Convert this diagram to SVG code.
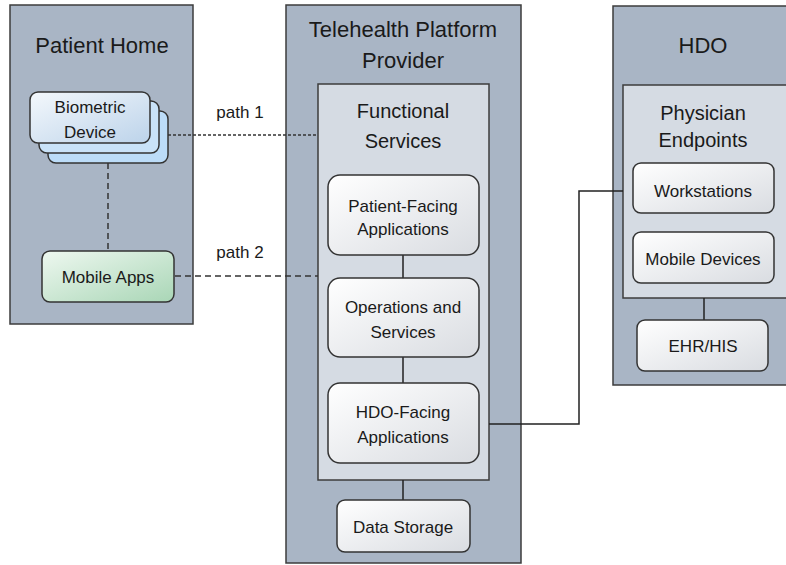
<svg xmlns="http://www.w3.org/2000/svg" width="786" height="565" viewBox="0 0 786 565">
<defs>
<linearGradient id="gNode" x1="0" y1="0" x2="1" y2="1">
<stop offset="0" stop-color="#ffffff"/><stop offset="1" stop-color="#d9dce1"/>
</linearGradient>
<linearGradient id="gBio" x1="0" y1="0" x2="1" y2="1">
<stop offset="0" stop-color="#f4f8fc"/><stop offset="1" stop-color="#bcd3ea"/>
</linearGradient>
<linearGradient id="gMob" x1="0" y1="0" x2="1" y2="1">
<stop offset="0" stop-color="#eef8f0"/><stop offset="1" stop-color="#a9d6b6"/>
</linearGradient>
<style>
.outer{fill:#a9b5c5;stroke:#3c3c3c;stroke-width:1.5}
.inner{fill:#d5dbe3;stroke:#3c3c3c;stroke-width:1.5}
.node{fill:url(#gNode);stroke:#333;stroke-width:1.5}
.t{font-family:"Liberation Sans",Arial,sans-serif;fill:#1a1a1a;text-anchor:middle}
.big{font-size:22px}
.mid{font-size:20px}
.sm{font-size:17px}
.solid{stroke:#222;stroke-width:1.5;fill:none}
.dash{stroke:#333;stroke-width:1.5;fill:none;stroke-dasharray:6 4}
.dash1{stroke:#333;stroke-width:1.5;fill:none;stroke-dasharray:3 2}
</style>
</defs>
<rect width="786" height="565" fill="#ffffff"/>

<g id="patient-home">
<rect class="outer" x="10" y="5" width="183" height="319"/>
<text class="t big" x="102" y="53">Patient Home</text>
</g>

<g id="telehealth-platform">
<rect class="outer" x="286" y="5" width="235" height="558"/>
<text class="t big" x="403" y="37">Telehealth Platform</text>
<text class="t big" x="403" y="68">Provider</text>
</g>

<g id="hdo">
<rect class="outer" x="613" y="6" width="180" height="379"/>
<text class="t big" x="703" y="53">HDO</text>
</g>

<g id="functional-services">
<rect class="inner" x="318" y="84" width="171" height="396"/>
<text class="t mid" x="403" y="118">Functional</text>
<text class="t mid" x="403" y="148">Services</text>
</g>

<g id="physician-endpoints">
<rect class="inner" x="623" y="85" width="170" height="213"/>
<text class="t mid" x="703" y="120">Physician</text>
<text class="t mid" x="703" y="147">Endpoints</text>
</g>

<g id="connectors">
<path class="dash1" d="M168 135 H318"/>
<path class="dash" d="M175 276 H318"/>
<path class="dash" d="M108 163 V250"/>
<path class="solid" d="M403 255 V278 M403 357 V383 M403 480 V500 M704 298 V320"/>
<path class="solid" d="M489 424 H579 V191 H623"/>
</g>

<g id="biometric-device">
<rect x="48" y="111" width="120" height="52" rx="8" fill="#bcdcf8" stroke="#333" stroke-width="1.5"/>
<rect x="39" y="101" width="120" height="52" rx="8" fill="#c9e2f8" stroke="#333" stroke-width="1.5"/>
<rect x="30" y="92" width="120" height="51" rx="8" fill="url(#gBio)" stroke="#333" stroke-width="1.5"/>
<text class="t sm" x="90" y="113">Biometric</text>
<text class="t sm" x="90" y="138">Device</text>
</g>

<g id="mobile-apps">
<rect x="42" y="251" width="132" height="51" rx="8" fill="url(#gMob)" stroke="#333" stroke-width="1.5"/>
<text class="t sm" x="108" y="283">Mobile Apps</text>
</g>

<g id="path-labels">
<text class="t sm" x="240" y="118">path 1</text>
<text class="t sm" x="240" y="258">path 2</text>
</g>

<g id="patient-facing">
<rect class="node" x="328" y="175" width="151" height="80" rx="12"/>
<text class="t sm" x="403" y="212">Patient-Facing</text>
<text class="t sm" x="403" y="235">Applications</text>
</g>

<g id="operations">
<rect class="node" x="328" y="278" width="151" height="79" rx="12"/>
<text class="t sm" x="403" y="313">Operations and</text>
<text class="t sm" x="403" y="338">Services</text>
</g>

<g id="hdo-facing">
<rect class="node" x="328" y="383" width="151" height="80" rx="12"/>
<text class="t sm" x="403" y="418">HDO-Facing</text>
<text class="t sm" x="403" y="443">Applications</text>
</g>

<g id="data-storage">
<rect class="node" x="337" y="500" width="133" height="52" rx="8"/>
<text class="t sm" x="403" y="533">Data Storage</text>
</g>

<g id="workstations">
<rect class="node" x="633" y="163" width="141" height="50" rx="8"/>
<text class="t sm" x="703" y="197">Workstations</text>
</g>

<g id="mobile-devices">
<rect class="node" x="633" y="232" width="141" height="51" rx="8"/>
<text class="t sm" x="703" y="265">Mobile Devices</text>
</g>

<g id="ehr-his">
<rect class="node" x="637" y="320" width="131" height="51" rx="8"/>
<text class="t sm" x="703" y="352">EHR/HIS</text>
</g>
</svg>
